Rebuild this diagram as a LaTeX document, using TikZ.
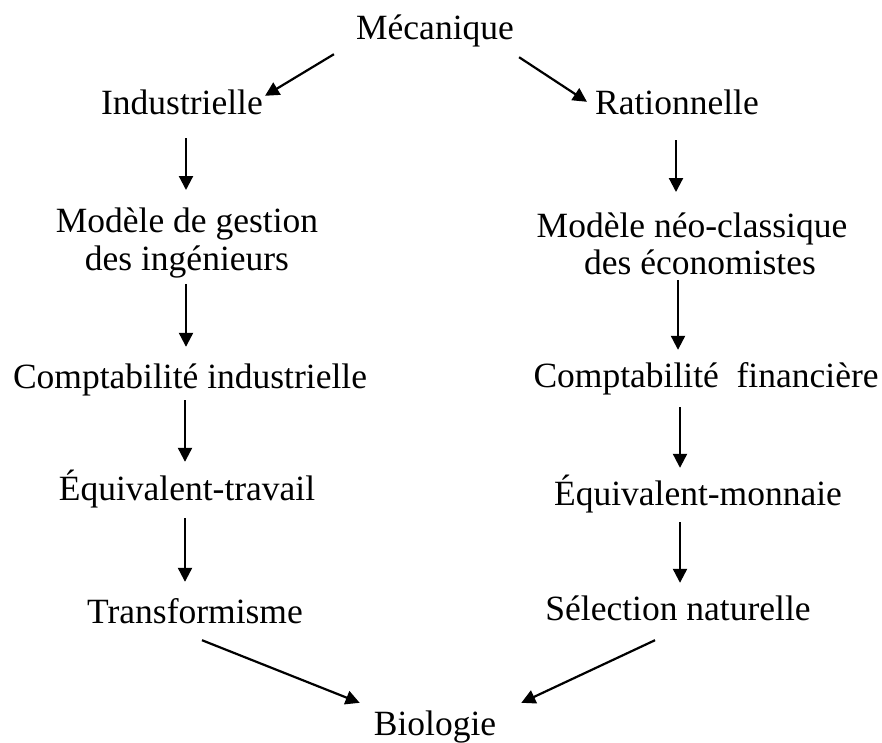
\documentclass[tikz,border=0pt]{standalone}
\usepackage{fontspec}
\setmainfont{Liberation Serif}
\usetikzlibrary{arrows.meta}
\begin{document}
\begin{tikzpicture}[x=1pt,y=-1pt,
  lbl/.style={inner sep=0pt, anchor=base, font=\fontsize{35.5}{38}\selectfont, text height=25pt, text depth=8pt},
  lbltwo/.style={inner sep=0pt, anchor=north, align=center, font=\fontsize{35.5}{38}\selectfont},
  arr/.style={line width=2.2pt, -{Triangle[length=14pt,width=14pt]}}]
\useasboundingbox (0,0) rectangle (882,742);
\fill[white] (0,0) rectangle (882,742);
\node[lbl] (mec) at (435,39) {Mécanique};
\node[lbl] (ind) at (182,114) {Industrielle};
\node[lbl] (rat) at (677,114) {Rationnelle};
\node[lbltwo] (mg) at (187,208) {Modèle de gestion\\des ingénieurs};
\node[lbltwo, font=\fontsize{35.5}{37}\selectfont] (mn) at (692,213) {Modèle néo-classique\\\hspace*{16pt}des économistes};
\node[lbl] (ci) at (190,388) {Comptabilité industrielle};
\node[lbl] (cf) at (706,387) {Comptabilité\ \ financière};
\node[lbl] (et) at (187,500) {Équivalent-travail};
\node[lbl] (em) at (698,505) {Équivalent-monnaie};
\node[lbl] (tr) at (195,623) {Transformisme};
\node[lbl] (sn) at (678,620) {Sélection naturelle};
\node[lbl] (bio) at (435,735) {Biologie};
% arrows
\draw[arr] ([shift={(-22,7)}]mec.south west) -- ([shift={(2,7)}]ind.north east);
\draw[arr] ([shift={(5,10)}]mec.south east) -- ([shift={(-8,13)}]rat.north west);
\draw[arr] ([shift={(4,16)}]ind.south) -- ([shift={(-1,-18)}]mg.north);
\draw[arr] ([shift={(-1,5)}]mg.south) -- ([shift={(-4,-16)}]ci.north);
\draw[arr] ([shift={(-5,4)}]ci.south) -- ([shift={(-2,-13)}]et.north);
\draw[arr] ([shift={(-2,10)}]et.south) -- ([shift={(-10,-16)}]tr.north);
\draw[arr] ([shift={(7,9)}]tr.south) -- ([shift={(-14,-7)}]bio.north west);
\draw[arr] ([shift={(-1,18)}]rat.south) -- ([shift={(-16,-21)}]mn.north);
\draw[arr] ([shift={(-14,5)}]mn.south) -- ([shift={(-28,-12)}]cf.north);
\draw[arr] ([shift={(-26,12)}]cf.south) -- ([shift={(-18,-12)}]em.north);
\draw[arr] ([shift={(-18,9)}]em.south) -- ([shift={(2,-12)}]sn.north);
\draw[arr] ([shift={(-23,12)}]sn.south) -- ([shift={(25,-7)}]bio.north east);
\end{tikzpicture}
\end{document}
